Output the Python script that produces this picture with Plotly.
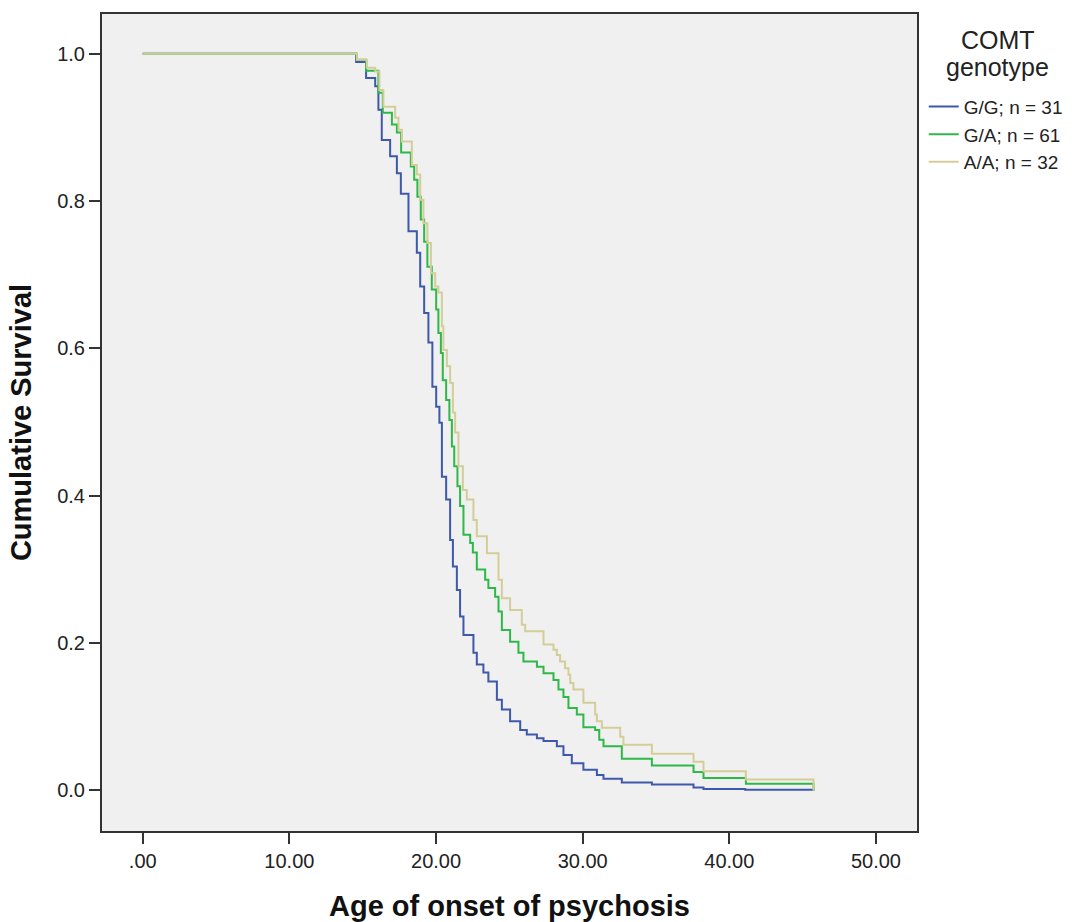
import plotly.graph_objects as go

# Kaplan-Meier step data (age, cumulative survival)
gg_age = [0, 14.55, 15.23, 15.85, 16.07, 16.30, 16.87, 17.33, 17.60, 18.12, 18.69, 18.92, 19.19, 19.48,
          19.75, 20.01, 20.23, 20.40, 20.69, 20.96, 21.15, 21.42, 21.64, 21.87, 22.55, 22.78, 23.23, 23.57,
          24.15, 24.49, 25.05, 25.74, 26.19, 26.88, 27.33, 28.24, 28.69, 29.26, 30.05, 30.97, 31.42, 32.67,
          34.72, 37.56, 38.24, 41.08, 45.74]
gg_surv = [1.0, 0.989, 0.967, 0.956, 0.924, 0.883, 0.861, 0.838, 0.810, 0.759, 0.730, 0.684, 0.648, 0.608,
           0.548, 0.521, 0.499, 0.426, 0.395, 0.340, 0.304, 0.272, 0.236, 0.211, 0.187, 0.171, 0.160, 0.148,
           0.123, 0.110, 0.094, 0.082, 0.076, 0.071, 0.067, 0.060, 0.048, 0.037, 0.028, 0.021, 0.016, 0.011,
           0.008, 0.004, 0.002, 0.001, 0.0]

ga_age = [0, 14.60, 15.23, 16.07, 16.37, 16.99, 17.33, 17.62, 18.28, 18.51, 18.73, 18.96, 19.19, 19.41,
          19.71, 20.01, 20.16, 20.33, 20.46, 20.69, 20.91, 21.08, 21.24, 21.46, 21.64, 21.87, 22.33, 22.51,
          22.78, 23.35, 23.57, 24.03, 24.26, 24.49, 25.05, 25.62, 25.96, 26.88, 27.33, 28.01, 28.35, 28.69,
          29.03, 29.60, 30.05, 30.85, 31.13, 31.42, 32.67, 34.72, 37.56, 38.24, 41.13, 45.74]
ga_surv = [1.0, 0.992, 0.977, 0.947, 0.920, 0.904, 0.893, 0.866, 0.847, 0.829, 0.806, 0.775, 0.745, 0.711,
           0.680, 0.653, 0.621, 0.594, 0.557, 0.530, 0.503, 0.467, 0.440, 0.413, 0.386, 0.347, 0.336, 0.323,
           0.300, 0.286, 0.275, 0.263, 0.243, 0.218, 0.202, 0.187, 0.175, 0.168, 0.159, 0.150, 0.137, 0.127,
           0.112, 0.103, 0.086, 0.082, 0.069, 0.060, 0.043, 0.034, 0.025, 0.017, 0.009, 0.0]

aa_age = [0, 14.60, 15.28, 15.85, 16.14, 16.41, 17.21, 17.44, 17.67, 18.35, 18.69, 18.92, 19.14, 19.41,
          19.65, 19.94, 20.16, 20.40, 20.50, 20.74, 20.96, 21.15, 21.30, 21.53, 21.83, 22.10, 22.55, 22.78,
          23.47, 24.26, 24.49, 25.05, 25.85, 26.08, 27.33, 28.01, 28.24, 28.46, 28.80, 29.03, 29.15, 29.37,
          30.05, 30.85, 30.97, 31.31, 32.56, 32.78, 34.72, 37.56, 38.24, 41.13, 45.74]
aa_surv = [1.0, 0.992, 0.981, 0.976, 0.951, 0.928, 0.913, 0.897, 0.881, 0.849, 0.836, 0.802, 0.770, 0.743,
           0.702, 0.684, 0.676, 0.630, 0.598, 0.576, 0.553, 0.513, 0.486, 0.440, 0.408, 0.395, 0.367, 0.345,
           0.322, 0.286, 0.261, 0.245, 0.225, 0.216, 0.198, 0.191, 0.184, 0.175, 0.166, 0.157, 0.146, 0.137,
           0.119, 0.103, 0.094, 0.085, 0.073, 0.062, 0.050, 0.039, 0.026, 0.015, 0.0]

series_names = ["G/G; n = 31", "G/A; n = 61", "A/A; n = 32"]
series_colors = ["#3E58AC", "#2EB848", "#D3CE97"]
legend_title_lines = ["COMT", "genotype"]

x_tick_vals = [0, 10, 20, 30, 40, 50]
x_tick_text = [".00", "10.00", "20.00", "30.00", "40.00", "50.00"]
y_tick_vals = [0.0, 0.2, 0.4, 0.6, 0.8, 1.0]

FONT = "Liberation Sans, Arial, sans-serif"

fig = go.Figure()
for name, color, xs, ys in zip(series_names, series_colors,
                               [gg_age, ga_age, aa_age], [gg_surv, ga_surv, aa_surv]):
    fig.add_trace(go.Scatter(x=xs, y=ys, mode="lines", name=name,
                             line=dict(color=color, width=2, shape="hv")))

axis_common = dict(showgrid=False, zeroline=False, showline=True, mirror=True,
                   linecolor="#333333", linewidth=2, ticks="outside", ticklen=11,
                   tickwidth=2, tickcolor="#333333", automargin=False,
                   tickfont=dict(family=FONT, size=20, color="#222222"))

fig.update_xaxes(range=[-2.78, 52.8], tickvals=x_tick_vals, ticktext=x_tick_text,
                 title=dict(text="Age of onset of psychosis", standoff=27,
                            font=dict(family=FONT, size=29, color="#111111", weight="bold")),
                 **axis_common)
fig.update_yaxes(range=[-0.055, 1.054], tickvals=y_tick_vals, tickformat=".1f",
                 title=dict(text="Cumulative Survival", standoff=17,
                            font=dict(family=FONT, size=29, color="#111111", weight="bold")),
                 **axis_common)

for txt, ypos in zip(legend_title_lines, [0.968, 0.9346]):
    fig.add_annotation(x=1.0988, y=ypos, xref="paper", yref="paper", xanchor="center",
                       yanchor="middle", text=txt, showarrow=False,
                       font=dict(family=FONT, size=25, color="#222222"))

fig.update_layout(
    width=1076, height=922,
    margin=dict(l=102, r=159, t=14, b=91),
    paper_bgcolor="white", plot_bgcolor="#F0F0F0",
    font=dict(family=FONT, color="#222222"),
    legend=dict(xref="container", yref="container", x=0.8585, xanchor="left",
                y=0.905, yanchor="top",
                bgcolor="rgba(0,0,0,0)", borderwidth=0,
                font=dict(family=FONT, size=19, color="#222222"),
                tracegroupgap=0, itemwidth=30),
)

fig.write_html("out.html", config={"displayModeBar": False},
               post_script="document.body.style.margin='0';document.body.style.overflow='hidden';")
